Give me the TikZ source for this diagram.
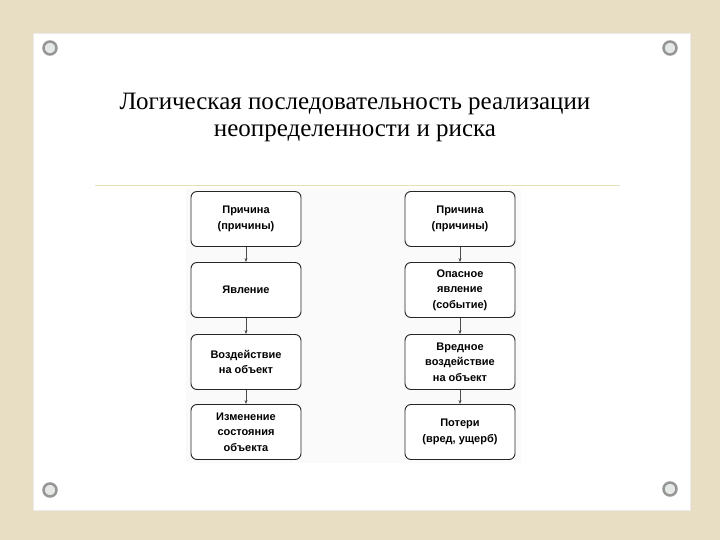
\documentclass[tikz,border=0pt]{standalone}
\usepackage{fontspec}
\setmainfont{Liberation Serif}
\newfontfamily\boxfont{Liberation Sans}
\usetikzlibrary{arrows.meta}
\definecolor{bg}{RGB}{232,222,196}
\definecolor{pinc}{RGB}{150,150,150}
\tikzset{
 stepbox/.style={draw=black!85,line width=0.9pt,rounded corners=6pt,minimum width=110pt,minimum height=55pt,align=center,font=\boxfont\bfseries\fontsize{11}{15.5}\selectfont,fill=white,inner sep=2pt},
 arr/.style={-{Stealth[length=4pt,width=3pt]},line width=0.5pt,black!70},
 pin/.style={circle,draw=pinc,line width=2.5pt,fill=green!15!black!10,minimum size=13pt,inner sep=0pt}
}
\begin{document}
\begin{tikzpicture}[x=1pt,y=-1pt]
\fill[bg] (0,0) rectangle (720,540);
\useasboundingbox (0,0) rectangle (720,540);
\fill[white] (33,33) rectangle (690,510);
\draw[black!8] (33,33) rectangle (690,510);
\node[pin] (p1) at (50,48) {};
\node[pin] (p2) at (670,48) {};
\node[pin] (p3) at (50,490) {};
\node[pin] (p4) at (670,489) {};
\node[font=\fontsize{25}{27}\selectfont,align=center] (title) at (355,117) {Логическая последовательность реализации\\неопределенности и риска};
\draw[yellow!60!black!30,line width=0.6pt] (95,185) -- (620,185);
\fill[black!2] (186,189) rectangle (521,463);
\node[stepbox] (a1) at (246,219) {Причина\\(причины)};
\node[stepbox] (a2) at (246,290) {Явление};
\node[stepbox] (a3) at (246,362) {Воздействие\\на объект};
\node[stepbox] (a4) at (246,432) {Изменение\\состояния\\объекта};
\node[stepbox] (b1) at (460,219) {Причина\\(причины)};
\node[stepbox] (b2) at (460,290) {Опасное\\явление\\(событие)};
\node[stepbox] (b3) at (460,362) {Вредное\\воздействие\\на объект};
\node[stepbox] (b4) at (460,432) {Потери\\(вред, ущерб)};
\foreach \c in {a,b}{
 \draw[arr] (\c1) -- (\c2);
 \draw[arr] (\c2) -- (\c3);
 \draw[arr] (\c3) -- (\c4);
}
\end{tikzpicture}
\end{document}
